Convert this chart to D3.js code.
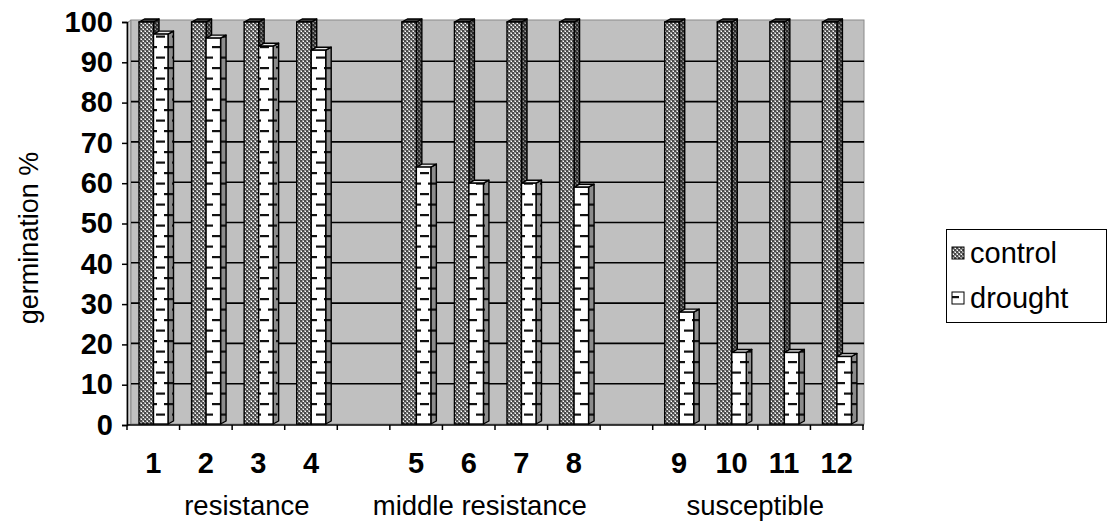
<!DOCTYPE html>
<html>
<head>
<meta charset="utf-8">
<script src="https://cdn.jsdelivr.net/npm/d3@7"></script>
<style>
  html, body { margin: 0; padding: 0; background: #ffffff; }
  svg { display: block; font-family: "Liberation Sans", Arial, sans-serif; }
</style>
</head>
<body>
<svg id="chart" width="1116" height="527"></svg>
<script>
// Germination (%) of 12 lines under control and drought conditions
const lines = ["1", "2", "3", "4", "", "5", "6", "7", "8", "", "9", "10", "11", "12"];
const control = [100, 100, 100, 100, null, 100, 100, 100, 100, null, 100, 100, 100, 100];
const drought = [97, 96, 94, 93, null, 64, 60, 60, 59, null, 28, 18, 18, 17];
const yTicks = [0, 10, 20, 30, 40, 50, 60, 70, 80, 90, 100];
const groupNames = ["resistance", "middle resistance", "susceptible"];
const seriesNames = ["control", "drought"];

// layout
const plot = { left: 127, right: 863, top: 22, bottom: 425 };
const depth = { dx: 5.5, dy: -3 };
const groupAt = [2.28, 6.71, 11.95]; // label centres, in slot units

const svg = d3.select("#chart");

const x = d3.scaleBand()
  .domain(d3.range(lines.length))
  .range([plot.left, plot.right])
  .paddingInner(0).paddingOuter(0);
const slot = x.bandwidth();
const y = d3.scaleLinear().domain([0, 100]).range([plot.bottom, plot.top]);

// ---- fill patterns ----
const defs = svg.append("defs");

function checker(id, base, dark, light) {
  const p = defs.append("pattern").attr("id", id)
    .attr("patternUnits", "userSpaceOnUse").attr("width", 4).attr("height", 4);
  p.append("rect").attr("width", 4).attr("height", 4).attr("fill", base);
  p.append("rect").attr("x", 0).attr("y", 0).attr("width", 2).attr("height", 2).attr("fill", dark);
  p.append("rect").attr("x", 2).attr("y", 2).attr("width", 2).attr("height", 2).attr("fill", dark);
  p.append("rect").attr("x", 3).attr("y", 1).attr("width", 1).attr("height", 1).attr("fill", light);
  p.append("rect").attr("x", 1).attr("y", 3).attr("width", 1).attr("height", 1).attr("fill", light);
}
checker("ctrlFront", "#9c9c9c", "#4a4a4a", "#ffffff");
checker("ctrlSide", "#5a5a5a", "#2a2a2a", "#9a9a9a");

function dashes(id, bg) {
  const p = defs.append("pattern").attr("id", id)
    .attr("patternUnits", "userSpaceOnUse").attr("width", 16).attr("height", 21);
  p.append("rect").attr("width", 16).attr("height", 21).attr("fill", bg);
  p.append("rect").attr("x", 4).attr("y", 4).attr("width", 9).attr("height", 2.2).attr("fill", "#111");
  p.append("rect").attr("x", 12).attr("y", 14.5).attr("width", 4).attr("height", 2.2).attr("fill", "#111");
  p.append("rect").attr("x", 0).attr("y", 14.5).attr("width", 5).attr("height", 2.2).attr("fill", "#111");
}
dashes("drFront", "#ffffff");
dashes("drSide", "#8c8c8c");

// ---- walls ----
const wallLeft = plot.left + 4;
svg.append("path")
  .attr("d", `M${plot.left},${plot.bottom} L${plot.left},${plot.top + 1} L${wallLeft},${plot.top - 2} L${wallLeft},${plot.bottom - 1} Z`)
  .attr("fill", "#d6d6d6").attr("stroke", "#808080").attr("stroke-width", 1);
svg.append("rect")
  .attr("x", wallLeft).attr("y", plot.top - 2)
  .attr("width", plot.right + 1 - wallLeft).attr("height", plot.bottom - 1 - (plot.top - 2))
  .attr("fill", "#c0c0c0").attr("stroke", "#8a8a8a").attr("stroke-width", 1);

// gridlines on the back wall
svg.append("g").selectAll("line")
  .data(yTicks.filter(d => d > 0 && d < 100))
  .join("line")
  .attr("x1", wallLeft).attr("x2", plot.right + 1)
  .attr("y1", d => y(d) - 1).attr("y2", d => y(d) - 1)
  .attr("stroke", "#000").attr("stroke-width", 1.6);

// ---- bars ----
const barW = 14.5, lead = 12;

function bar3d(g, x0, v, front, side, top) {
  const x1 = x0 + barW, yt = y(v), yb = plot.bottom - 1;
  const { dx, dy } = depth;
  g.append("path")
    .attr("d", `M${x1},${yt} L${x1 + dx},${yt + dy} L${x1 + dx},${yb + dy} L${x1},${yb} Z`)
    .attr("fill", side).attr("stroke", "#000").attr("stroke-width", 1.4).attr("stroke-linejoin", "round");
  g.append("path")
    .attr("d", `M${x0},${yt} L${x0 + dx},${yt + dy} L${x1 + dx},${yt + dy} L${x1},${yt} Z`)
    .attr("fill", top).attr("stroke", "#000").attr("stroke-width", 1.4).attr("stroke-linejoin", "round");
  g.append("rect")
    .attr("x", x0).attr("y", yt).attr("width", barW).attr("height", yb - yt)
    .attr("fill", front).attr("stroke", "#000").attr("stroke-width", 1.4);
}

const bars = svg.append("g");
lines.forEach((lab, i) => {
  if (control[i] == null) return;
  const x0 = x(i) + lead;
  bar3d(bars, x0, control[i], "url(#ctrlFront)", "url(#ctrlSide)", "#3a3a3a");
  bar3d(bars, x0 + barW, drought[i], "url(#drFront)", "url(#drSide)", "#e8e8e8");
});

// ---- axes ----
const yAxis = d3.axisLeft(y).tickValues(yTicks).tickSize(5).tickPadding(9);
const gy = svg.append("g").attr("transform", `translate(${plot.left},0)`).call(yAxis);
gy.select(".domain").attr("stroke", "#000").attr("stroke-width", 1.5);
gy.selectAll(".tick line").attr("stroke", "#000").attr("stroke-width", 1.5);
gy.selectAll(".tick text")
  .attr("font-family", "Liberation Sans, Arial, sans-serif")
  .attr("font-size", 29).attr("font-weight", "bold").attr("fill", "#000");

// category axis: ticks on slot boundaries
const edges = d3.range(lines.length + 1).map(i => plot.left + i * slot);
svg.append("line")
  .attr("x1", plot.left).attr("x2", plot.right + 1)
  .attr("y1", plot.bottom).attr("y2", plot.bottom)
  .attr("stroke", "#000").attr("stroke-width", 1.5);
svg.append("g").selectAll("line").data(edges).join("line")
  .attr("x1", d => d).attr("x2", d => d)
  .attr("y1", plot.bottom).attr("y2", plot.bottom + 5)
  .attr("stroke", "#000").attr("stroke-width", 1.5);

svg.append("g").selectAll("text").data(lines.map((l, i) => ({ l, i })).filter(d => d.l))
  .join("text")
  .attr("x", d => x(d.i) + slot / 2)
  .attr("y", 473)
  .attr("text-anchor", "middle")
  .attr("font-size", 29).attr("font-weight", "bold").attr("fill", "#000")
  .text(d => d.l);

svg.append("g").selectAll("text").data(groupNames).join("text")
  .attr("x", (d, i) => plot.left + groupAt[i] * slot)
  .attr("y", 515)
  .attr("text-anchor", "middle")
  .attr("font-size", 27.5).attr("fill", "#000")
  .text(d => d);

// y axis title
svg.append("text")
  .attr("transform", `translate(38,238) rotate(-90)`)
  .attr("text-anchor", "middle")
  .attr("font-size", 27).attr("fill", "#000")
  .text("germination %");

// ---- legend ----
const lg = svg.append("g").attr("transform", "translate(946,229)");
lg.append("rect").attr("x", 0.5).attr("y", 0.5).attr("width", 160).attr("height", 93)
  .attr("fill", "#fff").attr("stroke", "#000").attr("stroke-width", 1);
const swatchFill = ["url(#ctrlFront)", "url(#drFront)"];
seriesNames.forEach((name, i) => {
  const cy = 24 + i * 45;
  lg.append("rect").attr("x", 6).attr("y", cy - 6).attr("width", 12).attr("height", 12)
    .attr("fill", swatchFill[i]).attr("stroke", "#000").attr("stroke-width", 1);
  lg.append("text").attr("x", 24).attr("y", cy + 10)
    .attr("font-size", 29).attr("fill", "#000").text(name);
});
</script>
</body>
</html>
